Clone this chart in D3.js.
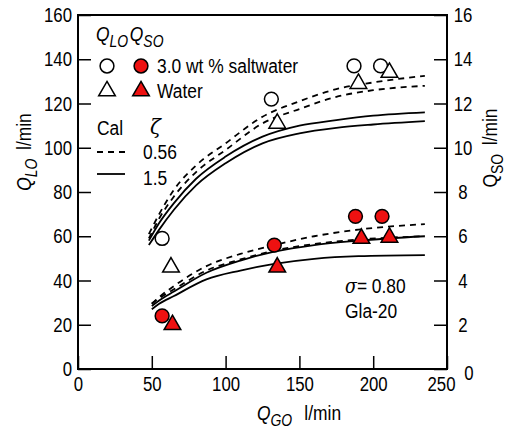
<!DOCTYPE html>
<html lang="en">
<head>
    <meta charset="UTF-8">
    <title>QLO QSO vs QGO</title>
    <script src="https://cdn.jsdelivr.net/npm/d3@7"></script>
    <style>
        body { margin: 0; background: #fff; }
        svg text { font-family: "Liberation Sans", Arial, sans-serif; fill: #000; }
    </style>
</head>
<body>
    <div id="chart"></div>
    <script>
        // measured points, QLO (left axis, l/min)
        var saltQgoLO = [57, 131, 187, 205];
        var saltQLO = [59, 122, 137, 137];
        var waterQgoLO = [63, 135, 190, 211];
        var waterQLO = [46, 111, 129, 134];

        // measured points, QSO (right axis, l/min)
        var saltQgoSO = [57, 133, 188, 206];
        var saltQSO = [2.4, 5.6, 6.9, 6.9];
        var waterQgoSO = [64, 135, 192, 211];
        var waterQSO = [2.0, 4.6, 5.9, 5.95];

        // calculated curves, QLO
        var calQgoLO = [48, 55, 65, 80, 100, 125, 150, 175, 200, 235];
        var calLO_056a = [61, 70, 81, 92, 102, 114, 121, 126.5, 129.5, 132.5];
        var calLO_056b = [59, 68, 78, 89, 99, 111, 117.5, 123, 126, 128];
        var calLO_15a = [58, 66, 75, 86, 96, 105, 110, 112.5, 114.5, 116];
        var calLO_15b = [56, 63, 72, 83, 93, 102, 106.5, 109, 110.5, 112];

        // calculated curves, QSO
        var calQgoSO = [50, 55, 65, 87, 110, 133, 160, 190, 235];
        var calSO_056a = [2.95, 3.25, 3.75, 4.65, 5.2, 5.6, 6.0, 6.3, 6.55];
        var calSO_056b = [2.95, 3.2, 3.6, 4.45, 4.95, 5.35, 5.65, 5.85, 6.0];
        var calSO_15a = [2.85, 3.1, 3.5, 4.35, 4.9, 5.3, 5.6, 5.8, 6.0];
        var calSO_15b = [2.7, 2.95, 3.3, 4.05, 4.45, 4.75, 4.98, 5.1, 5.15];

        var xTicks = [0, 50, 100, 150, 200, 250];
        var yLeftTicks = [0, 20, 40, 60, 80, 100, 120, 140, 160];
        var yRightTicks = [0, 2, 4, 6, 8, 10, 12, 14, 16];

        var W = 508, H = 430;
        var pL = 78, pR = 447, pT = 15, pB = 369;
        var red = "#ee1111";

        var svg = d3.select("#chart").append("svg")
            .attr("width", W).attr("height", H);

        // the original uses a narrow sans face: squeeze text around its anchor
        function squeeze(sel, k) {
            k = k || 0.87;
            sel.each(function() {
                var t = d3.select(this);
                var x0 = +t.attr("x") || 0, y0 = +t.attr("y") || 0;
                var tr = t.attr("transform") || "";
                t.attr("x", null).attr("y", null)
                    .attr("transform", tr + " translate(" + x0 + "," + y0 + ") scale(" + k + ",1)");
            });
        }

        var x = d3.scaleLinear().domain([0, 250]).range([pL, pR]);
        var yL = d3.scaleLinear().domain([0, 160]).range([pB, pT]);
        var yR = d3.scaleLinear().domain([0, 16]).range([pB, pT]);

        // axes with inward ticks
        var tickLen = 13;
        var gx = svg.append("g").attr("transform", "translate(0," + pB + ")")
            .call(d3.axisBottom(x).tickValues(xTicks).tickSizeInner(-tickLen).tickSizeOuter(0).tickPadding(7));
        var gl = svg.append("g").attr("transform", "translate(" + pL + ",0)")
            .call(d3.axisLeft(yL).tickValues(yLeftTicks).tickSizeInner(-tickLen).tickSizeOuter(0).tickPadding(6));
        var gr = svg.append("g").attr("transform", "translate(" + pR + ",0)")
            .call(d3.axisRight(yR).tickValues(yRightTicks).tickSizeInner(-tickLen).tickSizeOuter(0).tickPadding(16));

        // right labels are centred; the corner labels step aside
        gr.selectAll(".tick text").attr("text-anchor", "middle");
        gr.selectAll(".tick text").filter(function(d) { return d === 0; }).attr("x", 22).attr("dy", "0.5em");
        gx.selectAll(".tick text").filter(function(d) { return d === 250; }).attr("x", -6);
        [gx, gl, gr].forEach(function(g) {
            g.select(".domain").remove();
            g.selectAll(".tick line").attr("stroke", "#000").attr("stroke-width", 1.5);
            g.selectAll(".tick text").style("font-size", "21px").attr("fill", "#000")
                .call(squeeze, 0.8);
        });

        // frame
        svg.append("rect")
            .attr("x", pL).attr("y", pT)
            .attr("width", pR - pL).attr("height", pB - pT)
            .attr("fill", "none").attr("stroke", "#000").attr("stroke-width", 2);

        // curves
        function drawCurve(xs, ys, yScale, dashed) {
            var pts = xs.map(function(v, i) { return [v, ys[i]]; });
            var line = d3.line()
                .x(function(d) { return x(d[0]); })
                .y(function(d) { return yScale(d[1]); })
                .curve(d3.curveMonotoneX);
            svg.append("path")
                .attr("d", line(pts))
                .attr("fill", "none")
                .attr("stroke", "#000")
                .attr("stroke-width", 1.8)
                .attr("stroke-dasharray", dashed ? "6,5" : null);
        }
        drawCurve(calQgoLO, calLO_056a, yL, true);
        drawCurve(calQgoLO, calLO_056b, yL, true);
        drawCurve(calQgoLO, calLO_15a, yL, false);
        drawCurve(calQgoLO, calLO_15b, yL, false);
        drawCurve(calQgoSO, calSO_056a, yR, true);
        drawCurve(calQgoSO, calSO_056b, yR, true);
        drawCurve(calQgoSO, calSO_15a, yR, false);
        drawCurve(calQgoSO, calSO_15b, yR, false);

        // markers
        var circle = d3.symbol().type(d3.symbolCircle).size(150);
        var tri = d3.symbol().type(d3.symbolTriangle).size(120);
        function drawMarks(xs, ys, yScale, sym, fill) {
            svg.append("g").selectAll("path")
                .data(xs.map(function(v, i) { return [v, ys[i]]; }))
                .enter().append("path")
                .attr("d", sym)
                .attr("transform", function(d) { return "translate(" + x(d[0]) + "," + yScale(d[1]) + ")"; })
                .attr("fill", fill)
                .attr("stroke", "#000")
                .attr("stroke-width", 1.5);
        }
        drawMarks(saltQgoLO, saltQLO, yL, circle, "#fff");
        drawMarks(waterQgoLO, waterQLO, yL, tri, "#fff");
        drawMarks(saltQgoSO, saltQSO, yR, circle, red);
        drawMarks(waterQgoSO, waterQSO, yR, tri, red);

        // axis titles with subscripts
        function qLabel(g, sub, italic, rest, gap) {
            var t = g.append("text").style("font-size", "20px");
            t.append("tspan").text("Q").style("font-style", italic ? "italic" : "normal");
            t.append("tspan").text(sub).attr("dy", 6).style("font-size", "16px")
                .style("font-style", italic ? "italic" : "normal");
            if (rest) t.append("tspan").text(rest).attr("dy", -6).attr("dx", gap);
            return t;
        }

        qLabel(svg.append("g").attr("transform", "translate(257,420)"), "GO", true, "l/min", 14).call(squeeze);
        qLabel(svg.append("g").attr("transform", "translate(31,152) rotate(-90)"), "LO", true, "l/min", 10)
            .attr("text-anchor", "middle").call(squeeze);
        qLabel(svg.append("g").attr("transform", "translate(497,148) rotate(-90)"), "SO", false, "l/min", 10)
            .attr("text-anchor", "middle").call(squeeze);

        // legend
        var lg = svg.append("g");
        var h = lg.append("text").attr("x", 96).attr("y", 41).style("font-size", "20px");
        h.append("tspan").text("Q").style("font-style", "italic");
        h.append("tspan").text("LO").attr("dy", 6).style("font-size", "16px").style("font-style", "italic");
        h.append("tspan").text("Q").attr("dy", -6).attr("dx", 2).style("font-style", "italic");
        h.append("tspan").text("SO").attr("dy", 6).style("font-size", "16px").style("font-style", "italic");
        h.call(squeeze);

        var legRows = [
            { y: 66, sym: circle, label: "3.0 wt % saltwater" },
            { y: 91, sym: tri, label: "Water" }
        ];
        legRows.forEach(function(r) {
            lg.append("path").attr("d", r.sym).attr("transform", "translate(107," + r.y + ")")
                .attr("fill", "#fff").attr("stroke", "#000").attr("stroke-width", 1.5);
            lg.append("path").attr("d", r.sym).attr("transform", "translate(141," + r.y + ")")
                .attr("fill", red).attr("stroke", "#000").attr("stroke-width", 1.5);
            lg.append("text").attr("x", 157).attr("y", r.y + 7).style("font-size", "20px").text(r.label).call(squeeze);
        });

        lg.append("text").attr("x", 97).attr("y", 135).style("font-size", "20px").text("Cal").call(squeeze);
        lg.append("text").attr("x", 150).attr("y", 134).style("font-size", "20px")
            .style("font-family", "'DejaVu Serif', serif").style("font-style", "italic").text("ζ");
        lg.append("line").attr("x1", 97).attr("x2", 125).attr("y1", 152).attr("y2", 152)
            .attr("stroke", "#000").attr("stroke-width", 1.8).attr("stroke-dasharray", "6,5");
        lg.append("text").attr("x", 143).attr("y", 159).style("font-size", "20px").text("0.56").call(squeeze);
        lg.append("line").attr("x1", 97).attr("x2", 125).attr("y1", 174).attr("y2", 174)
            .attr("stroke", "#000").attr("stroke-width", 1.8);
        lg.append("text").attr("x", 143).attr("y", 185).style("font-size", "20px").text("1.5").call(squeeze);

        // annotation
        var s = svg.append("text").attr("x", 345).attr("y", 293).style("font-size", "20px");
        s.append("tspan").text("σ").style("font-family", "'DejaVu Serif', serif").style("font-style", "italic");
        s.append("tspan").text("= 0.80");
        s.call(squeeze);
        svg.append("text").attr("x", 345).attr("y", 318).style("font-size", "20px").text("Gla-20").call(squeeze);
    </script>
</body>
</html>
